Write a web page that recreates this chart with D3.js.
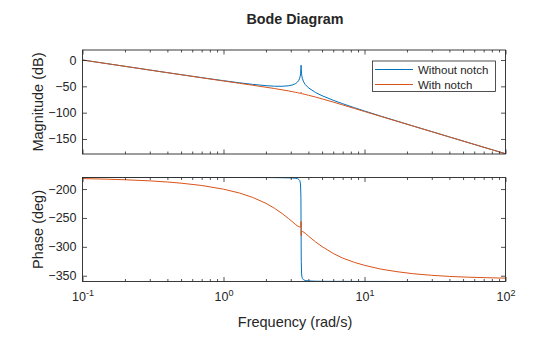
<!DOCTYPE html>
<html><head><meta charset="utf-8">
<script src="https://cdn.jsdelivr.net/npm/d3@7"></script>
<style>body{margin:0;background:#fff}svg{display:block;font-family:"Liberation Sans",Arial,Helvetica,sans-serif}</style>
</head><body><svg id="c" width="560" height="337"></svg>
<script>
// ---- data ----
const seriesNames = ["Without notch", "With notch"];
const freqBlue = [0.1,0.15,0.2,0.3,0.4,0.5,0.7,1,1.3,1.6,2,2.3,2.6,2.9,3.1,3.25,3.35,3.42,3.47,3.5,3.52,3.54,3.55,3.56,3.58,3.6,3.63,3.7,3.8,4,4.5,5,6,7,8.5,10,13,17,22,30,40,55,75,100];
const magBlue = [0,-7.0,-12.0,-19.0,-24.0,-27.8,-33.5,-39.3,-43.3,-46.2,-48.7,-49.8,-49.9,-48.9,-47.2,-44.7,-41.8,-38.5,-34.6,-30.6,-26.3,-16.6,-10,-17.4,-26.9,-31.4,-35.6,-41.5,-46.5,-52.7,-61.8,-67.8,-76.5,-83.0,-90.7,-96.8,-106.5,-116.0,-125.2,-136.0,-146.1,-157.2,-168.0,-178.0];
const phaseBlue = [-180,-180,-180,-180,-180,-180,-180,-180,-180,-180.1,-180.1,-180.2,-180.4,-180.6,-180.9,-181.4,-182,-183.4,-185,-188,-193,-215,-270,-325,-347,-352,-355,-357.2,-358.2,-359,-359.5,-359.7,-359.8,-359.8,-359.9,-359.9,-359.9,-360,-360,-360,-360,-360,-360,-360];
const freqOrange = [0.1,0.15,0.2,0.3,0.4,0.5,0.7,1,1.3,1.6,2,2.3,2.6,2.9,3.1,3.25,3.35,3.45,3.52,3.54,3.55,3.56,3.57,3.65,3.8,4,4.5,5,6,7,8.5,10,13,17,22,30,40,55,75,100];
const magOrange = [0,-7.05,-12.0,-19.1,-24.1,-27.9,-33.7,-39.8,-44.3,-47.8,-51.7,-54.2,-56.6,-58.8,-60.3,-61.4,-62.1,-62.9,-63.3,-63.4,-61.5,-63.6,-63.7,-64.3,-65.4,-66.9,-70.4,-73.8,-79.9,-85.3,-92.1,-97.8,-107.0,-116.3,-125.3,-136.1,-146.1,-157.2,-168.0,-178.0];
const phaseOrange = [-181.9,-182.9,-183.9,-185.8,-187.8,-189.8,-193.8,-200.2,-206.9,-214.2,-224.7,-233.3,-242.2,-251.3,-257.2,-261.6,-263.8,-265.3,-265.8,-264,-256,-281,-273.5,-273.6,-276.5,-281.3,-291.5,-299.5,-311.5,-319.5,-327,-332,-338.5,-343,-346.5,-349.3,-351.2,-352.6,-353.5,-354.2];
const xMajorTicks = [0.1, 1, 10, 100];
const xTickExponents = ["-1", "0", "1", "2"];
const magTicks = [0, -50, -100, -150];
const phaseTicks = [-200, -250, -300, -350];
const titleText = "Bode Diagram";
const xLabel = "Frequency (rad/s)";
const magLabel = "Magnitude (dB)";
const phaseLabel = "Phase (deg)";

// ---- layout ----
const colors = ["#0072BD", "#D95319"];
const ink = "#262626";
const L = 82.5, R = 505.5;
const magTop = 50, magBot = 154, phTop = 177.5, phBot = 281.5;
const svg = d3.select("#c");

const x = d3.scaleLog().domain([0.1, 100]).range([L, R]);
const yMag = d3.scaleLinear().domain([-178.5, 19]).range([magBot, magTop]);
const yPh = d3.scaleLinear().domain([-360, -180]).range([phBot, phTop]);

const minorTicks = [];
for (let e = -1; e < 2; e++) for (let k = 2; k <= 9; k++) minorTicks.push(k * Math.pow(10, e));

function panel(id, y, top, bot, yTicks, label, fb, vb, fo, vo, showX) {
  const g = svg.append("g");
  g.append("clipPath").attr("id", id).append("rect")
    .attr("x", L).attr("y", top).attr("width", R - L).attr("height", bot - top);
  const line = (fs) => d3.line().x((d, i) => x(fs[i])).y(d => y(d));
  const lines = g.append("g").attr("clip-path", `url(#${id})`);
  lines.append("path").attr("d", line(fb)(vb)).attr("fill", "none")
    .attr("stroke", colors[0]).attr("stroke-width", 1);
  lines.append("path").attr("d", line(fo)(vo)).attr("fill", "none")
    .attr("stroke", colors[1]).attr("stroke-width", 1);

  const style = (a) => { a.select(".domain").remove(); a.selectAll("line").attr("stroke", ink).attr("stroke-width", 0.8); a.selectAll("text").attr("fill", ink); };
  g.append("g").attr("transform", `translate(0,${bot})`)
    .call(d3.axisBottom(x).tickValues(xMajorTicks).tickSize(-4.5).tickFormat("")).call(style);
  g.append("g").attr("transform", `translate(0,${bot})`)
    .call(d3.axisBottom(x).tickValues(minorTicks).tickSize(-2.5).tickFormat("")).call(style);
  g.append("g").attr("transform", `translate(0,${top})`)
    .call(d3.axisTop(x).tickValues(xMajorTicks).tickSize(-4.5).tickFormat("")).call(style);
  g.append("g").attr("transform", `translate(0,${top})`)
    .call(d3.axisTop(x).tickValues(minorTicks).tickSize(-2.5).tickFormat("")).call(style);
  const ya = g.append("g").attr("transform", `translate(${L},0)`)
    .call(d3.axisLeft(y).tickValues(yTicks).tickSize(-4.5).tickPadding(6).tickFormat(d3.format("d")))
    .call(style);
  ya.selectAll("text").attr("font-size", 12.5).attr("font-family", "Liberation Sans, Arial, sans-serif");
  g.append("g").attr("transform", `translate(${R},0)`)
    .call(d3.axisRight(y).tickValues(yTicks).tickSize(-4.5).tickFormat("")).call(style);

  g.append("rect").attr("x", L).attr("y", top).attr("width", R - L).attr("height", bot - top)
    .attr("fill", "none").attr("stroke", ink).attr("stroke-width", 0.9);

  g.append("text").attr("transform", `translate(43,${(top + bot) / 2}) rotate(-90)`)
    .attr("text-anchor", "middle").attr("fill", ink).attr("font-size", 14.5).text(label);

  if (showX) {
    const xa = g.append("g").attr("transform", `translate(0,${bot})`)
      .call(d3.axisBottom(x).tickValues(xMajorTicks).tickSize(0).tickFormat("")).call(style);
    xa.selectAll(".tick").append("text").attr("fill", ink).attr("text-anchor", "middle")
      .attr("y", 19.5).attr("font-size", 12.5)
      .each(function (d, i) {
        const t = d3.select(this);
        t.append("tspan").text("10");
        t.append("tspan").attr("dy", -5.5).attr("font-size", 9).text(xTickExponents[i]);
      });
  }
}

panel("cm", yMag, magTop, magBot, magTicks, magLabel, freqBlue, magBlue, freqOrange, magOrange, false);
panel("cp", yPh, phTop, phBot, phaseTicks, phaseLabel, freqBlue, phaseBlue, freqOrange, phaseOrange, true);

svg.append("text").attr("x", (L + R) / 2 + 1).attr("y", 23.5).attr("text-anchor", "middle")
  .attr("font-weight", "bold").attr("font-size", 14.3).attr("fill", ink).text(titleText);
svg.append("text").attr("x", (L + R) / 2 + 1).attr("y", 326.5).attr("text-anchor", "middle")
  .attr("font-size", 14.5).attr("fill", ink).text(xLabel);

// legend
const lg = svg.append("g");
lg.append("rect").attr("x", 372.5).attr("y", 61).attr("width", 123).attr("height", 30.5)
  .attr("fill", "#fff").attr("stroke", ink).attr("stroke-width", 0.8);
seriesNames.forEach((n, i) => {
  const yy = 69.5 + i * 15;
  lg.append("line").attr("x1", 375).attr("x2", 413).attr("y1", yy).attr("y2", yy)
    .attr("stroke", colors[i]).attr("stroke-width", 1);
  lg.append("text").attr("x", 418).attr("y", yy + 4).attr("font-size", 11.5)
    .attr("fill", ink).text(n);
});
</script></body></html>
